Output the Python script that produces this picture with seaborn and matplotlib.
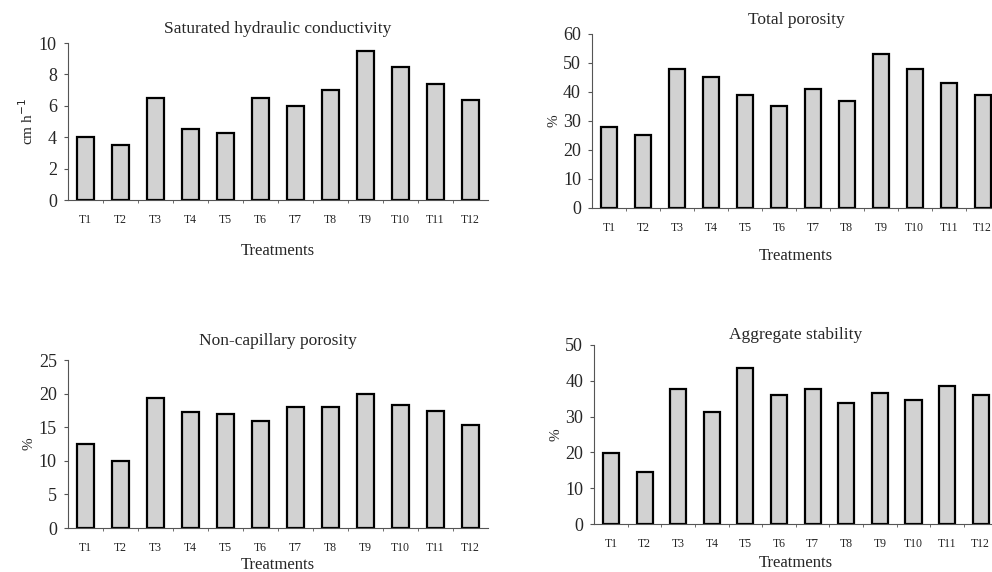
import matplotlib
matplotlib.use("Agg")
import matplotlib.pyplot as plt
import seaborn as sns
import pandas as pd
import numpy as np

treatments = ["T1", "T2", "T3", "T4", "T5", "T6", "T7", "T8", "T9", "T10", "T11", "T12"]
ksat = [4.0, 3.5, 6.5, 4.5, 4.3, 6.5, 6.0, 7.0, 9.5, 8.5, 7.4, 6.4]
total_porosity = [28, 25, 48, 45, 39, 35, 41, 37, 53, 48, 43, 39]
noncap_porosity = [12.5, 10.0, 19.3, 17.2, 16.9, 15.9, 18.0, 18.0, 20.0, 18.3, 17.4, 15.4]
aggregate_stability = [19.8, 14.5, 37.7, 31.4, 43.7, 35.9, 37.7, 33.8, 36.5, 34.7, 38.6, 35.9]

sns.set_style("ticks")
plt.rcParams["font.family"] = ["Liberation Serif", "DejaVu Serif"]

fig = plt.figure(figsize=(9.92, 5.72), dpi=100)

panels = [
    # (values, title, ylabel, ymax, step, axes rect, title pad, xlabel pad)
    (ksat, "Saturated hydraulic conductivity", "cm h$^{-1}$", 10, 2,
     [0.0685, 0.6503, 0.4234, 0.2745], 7, 12),
    (total_porosity, "Total porosity", "%", 60, 10,
     [0.5968, 0.6364, 0.4110, 0.3042], 7, 10),
    (noncap_porosity, "Non-capillary porosity", "%", 25, 5,
     [0.0685, 0.0769, 0.4234, 0.2937], 11, 2),
    (aggregate_stability, "Aggregate stability", "%", 50, 10,
     [0.5990, 0.0839, 0.4065, 0.3130], 4, 4),
]

for values, title, ylabel, ymax, step, rect, tpad, xpad in panels:
    ax = fig.add_axes(rect)
    df = pd.DataFrame({"Treatment": treatments, "Value": values})
    sns.barplot(data=df, x="Treatment", y="Value", ax=ax, color="#d2d2d2",
                edgecolor="black", linewidth=1.6, width=0.48, saturation=1)
    ax.set_xlim(-0.5, len(treatments) - 0.5)
    ax.set_ylim(0, ymax)
    ax.set_yticks(np.arange(0, ymax + 1, step))
    ax.tick_params(axis="y", labelsize=13, length=3, color="#555555", pad=5)
    ax.tick_params(axis="x", labelsize=8.5, length=0, pad=10)
    ax.set_xticks(np.arange(0.5, len(treatments) - 0.5), minor=True)
    ax.tick_params(axis="x", which="minor", length=2, color="#555555")
    sns.despine(ax=ax)
    for side in ("left", "bottom"):
        ax.spines[side].set_color("#555555")
        ax.spines[side].set_linewidth(0.8)
    ax.set_title(title, fontsize=12.5, pad=tpad)
    ax.set_xlabel("Treatments", fontsize=12, labelpad=xpad)
    ax.set_ylabel(ylabel, fontsize=11, labelpad=2)

fig.savefig("out.png", dpi=100)
